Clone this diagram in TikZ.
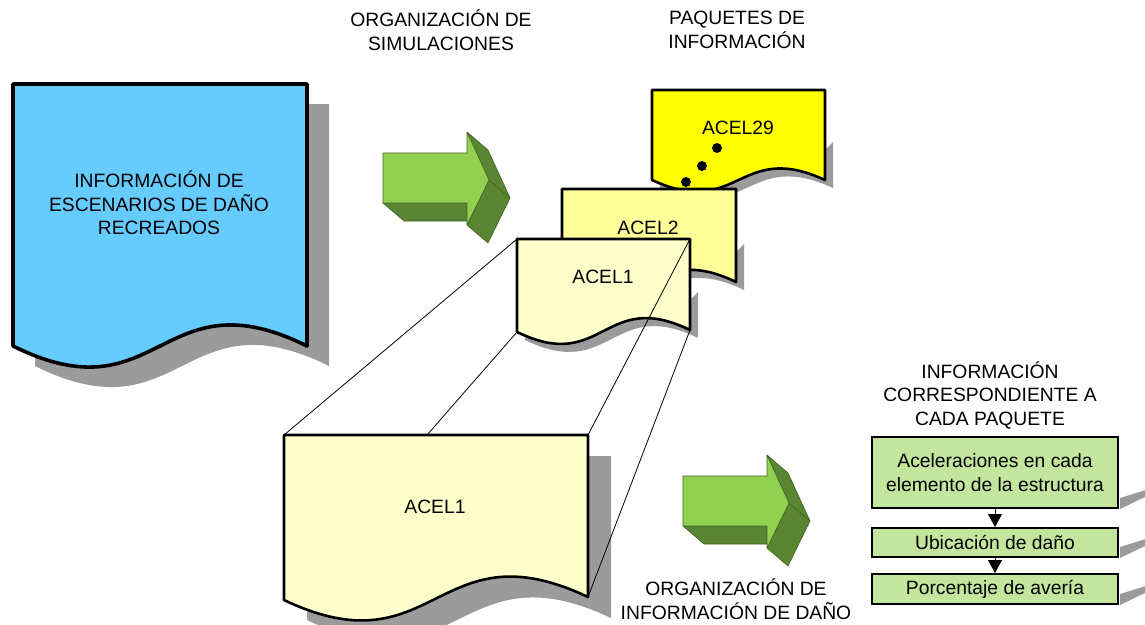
\documentclass[tikz,border=0pt]{standalone}
\usepackage{fontspec}
\setmainfont{Liberation Sans}
\usetikzlibrary{arrows.meta,calc}
\definecolor{docblue}{HTML}{66CCFF}
\definecolor{docyellow}{HTML}{FFFF00}
\definecolor{paleyellow}{HTML}{FFFFCC}
\definecolor{midyellow}{HTML}{FFFF99}
\definecolor{shadowgray}{HTML}{9B9B9B}
\definecolor{arrowfront}{HTML}{92D050}
\definecolor{arrowside}{HTML}{5A8533}
\definecolor{arrowedge}{HTML}{3F6320}
\definecolor{boxgreen}{HTML}{C3E59E}
% #1 style, #2 xl, #3 yt, #4 xr, #5 ybL, #6 ybR, #7 amplitude
\newcommand\docshape[7]{%
  \path[#1] (#2,#3) -- (#4,#3) -- (#4,#6) .. controls ({(#2+#4)/2},{#6-#7}) and ({(#2+#4)/2},{#5+#7}) .. (#2,#5) -- cycle;}
% #1 xl, #2 xr, #3 ybL, #4 ybR, #5 amplitude
\newcommand\smallshadow[5]{%
  \fill[shadowgray] (#2,{#4-30}) -- ({#2+8},{#4-38}) -- ({#2+8},{#4+8}) .. controls ({(#1+#2)/2+8},{#4+8-#5}) and ({(#1+#2)/2+8},{#3+8+#5}) .. ({#1+8},{#3+8}) -- ({#1+8},{#4-30}) -- cycle;}
\newcommand\greenarrow[2]{%
  \begin{scope}[shift={(#1,#2)}]
    \filldraw[fill=arrowside,draw=arrowedge,line width=0.6pt,line join=round] (0,50) -- (84,50) -- (105,68) -- (21,68) -- cycle;
    \filldraw[fill=arrowside,draw=arrowedge,line width=0.6pt,line join=round] (106,27) -- (127,45) -- (105,90) -- (84,72) -- cycle;
    \filldraw[fill=arrowside,draw=arrowedge,line width=0.6pt,line join=round] (84,-21) -- (105,-3) -- (127,45) -- (106,27) -- cycle;
    \filldraw[fill=arrowfront,draw=arrowedge,line width=0.6pt,line join=round] (0,0) -- (84,0) -- (84,-21) -- (106,27) -- (84,72) -- (84,50) -- (0,50) -- cycle;
  \end{scope}}
\begin{document}
\begin{tikzpicture}[x=1pt,y=-1pt,
  lbl/.style={align=center,inner sep=0pt,font=\fontsize{19.3}{23.5}\selectfont},
  docline/.style={draw=black,line width=2.6pt,line join=round},
  thinline/.style={draw=black,line width=0.8pt},
  gbox/.style={draw=black,line width=2pt,fill=boxgreen,minimum width=246pt,inner sep=0pt,align=center,font=\fontsize{19.3}{24}\selectfont},
  flowarrow/.style={draw=black,line width=1pt,-{Triangle[length=13pt,width=14pt]}}]
\clip (0,0) rectangle (1145,624);
\fill[white] (0,0) rectangle (1145,624);

% blue document
\docshape{fill=shadowgray}{35}{104}{329}{366}{366}{73}
\docshape{fill=docblue,draw=black,line width=3.6pt,line join=round}{13}{84}{307}{346}{346}{73}
\node[lbl] (tInfo) at (159,203) {INFORMACIÓN DE\\ESCENARIOS DE DAÑO\\RECREADOS};

% first 3D arrow
\greenarrow{383}{153}

% ACEL29
\smallshadow{652}{825}{180}{180}{40}
\docshape{fill=docyellow,docline}{652}{90}{825}{180}{180}{40}
\node[lbl] (a29) at (738,128) {ACEL29};
\fill (717,148) circle (5pt);
\fill (702,166) circle (5pt);
\fill (686,182) circle (5pt);

% ACEL2
\smallshadow{562}{736}{282}{282}{42}
\docshape{fill=midyellow,docline}{562}{189}{736}{282}{282}{42}
\node[lbl] (a2) at (648,228) {ACEL2};

% ACEL1 small
\smallshadow{517}{690}{332}{330}{42}
\docshape{fill=paleyellow,docline}{517}{239}{690}{332}{330}{42}
\node[lbl] (a1s) at (603,277) {ACEL1};

% ACEL1 big
\docshape{fill=shadowgray}{307}{456}{611}{620}{618}{72}
\docshape{fill=paleyellow,docline}{284}{435}{588}{600}{597}{72}
\node[lbl] (a1b) at (435,507) {ACEL1};

% projection lines
\coordinate (sTL) at (517,239);
\coordinate (sBL) at (517,332);
\coordinate (sTR) at (690,239);
\coordinate (sBR) at (690,330);
\coordinate (bTL) at (284,435);
\coordinate (bTM) at (427,435);
\coordinate (bTR) at (588,435);
\coordinate (bBR) at (588,597);
\draw[thinline] (sTL) -- (bTL);
\draw[thinline] (sBL) -- (bTM);
\draw[thinline] (sTR) -- (bTR);
\draw[thinline] (sBR) -- (bBR);

% second 3D arrow
\greenarrow{683}{476}

% titles
\node[lbl] (tSim) at (441,30) {ORGANIZACIÓN DE\\SIMULACIONES};
\node[lbl] (tPaq) at (737,30) {PAQUETES DE\\INFORMACIÓN};
\node[lbl] (tDano) at (736,599) {ORGANIZACIÓN DE\\INFORMACIÓN DE DAÑO};
\node[lbl] (tCorr) at (990,395) {INFORMACIÓN\\CORRESPONDIENTE A\\CADA PAQUETE};

% right column boxes
\node[gbox,minimum height=71pt] (b1) at (995,472.5) {Aceleraciones en cada\\elemento de la estructura};
\node[gbox,minimum height=29pt] (b2) at (995,542.5) {Ubicación de daño};
\node[gbox,minimum height=30pt] (b3) at (995,589) {Porcentaje de avería};
\foreach \b in {b1,b2,b3}{
  \fill[shadowgray] ($(\b.south east)+(1,-11)$) -- ($(\b.south east)+(30,-20)$) -- ($(\b.south east)+(30,-14)$) -- ($(\b.south east)+(1,0)$) -- cycle;
}
\draw[flowarrow] (b1.south) -- (b2.north);
\draw[flowarrow] (b2.south) -- (b3.north);
\end{tikzpicture}
\end{document}
